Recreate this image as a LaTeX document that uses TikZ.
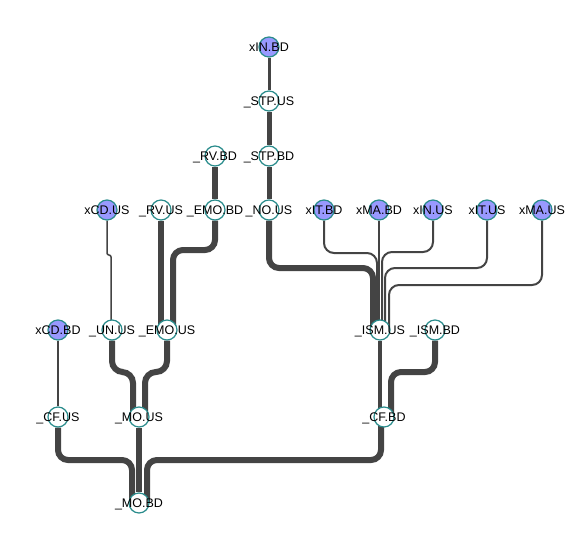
\documentclass[tikz,border=0pt]{standalone}
\usepackage{fontspec}
\setmainfont{Liberation Sans}
\usetikzlibrary{backgrounds}
\definecolor{linkgray}{HTML}{444444}
\definecolor{nodeteal}{HTML}{2A8C8C}
\definecolor{leafblue}{HTML}{9999FF}

\begin{document}
\begin{tikzpicture}[x=1pt,y=-1pt,
    every label/.style={font=\fontsize{12.5}{14}\selectfont,inner sep=0pt,text height=9pt,text depth=0pt}]
    \tikzset{tree/.style={circle,draw=nodeteal,fill=white,line width=1.2pt,minimum size=20pt,inner sep=0pt},
             leaf/.style={tree,fill=leafblue},
             link/.style={draw=linkgray,line width=#1,rounded corners=10pt},
             elbow/.style={to path={(\tikztostart) -- (\tikztostart |- 0,#1) -| (\tikztotarget)}}}
    \useasboundingbox (0,0) rectangle (584,536);

    \node[leaf,label=center:xIN.BD] (xINBD) at (269,47) {};
    \node[tree,label=center:\_STP.US] (STPUS) at (269,101) {};
    \node[tree,label=center:\_RV.BD] (RVBD) at (215,156) {};
    \node[tree,label=center:\_STP.BD] (STPBD) at (269,156) {};

    \node[leaf,label=center:xCD.US] (xCDUS) at (107,210) {};
    \node[tree,label=center:\_RV.US] (RVUS) at (161,210) {};
    \node[tree,label=center:\_EMO.BD] (EMOBD) at (215,210) {};
    \node[tree,label=center:\_NO.US] (NOUS) at (269,210) {};
    \node[leaf,label=center:xIT.BD] (xITBD) at (324,210) {};
    \node[leaf,label=center:xMA.BD] (xMABD) at (379,210) {};
    \node[leaf,label=center:xIN.US] (xINUS) at (433,210) {};
    \node[leaf,label=center:xIT.US] (xITUS) at (487,210) {};
    \node[leaf,label=center:xMA.US] (xMAUS) at (542,210) {};

    \node[leaf,label=center:xCD.BD] (xCDBD) at (58,330) {};
    \node[tree,label=center:\_UN.US] (UNUS) at (112,330) {};
    \node[tree,label=center:\_EMO.US] (EMOUS) at (167,330) {};
    \node[tree,label=center:\_ISM.US] (ISMUS) at (380,330) {};
    \node[tree,label=center:\_ISM.BD] (ISMBD) at (435,330) {};

    \node[tree,label=center:\_CF.US] (CFUS) at (58,417) {};
    \node[tree,label=center:\_MO.US] (MOUS) at (139,417) {};
    \node[tree,label=center:\_CF.BD] (CFBD) at (384,417) {};
    \node[tree,label=center:\_MO.BD] (MOBD) at (139,503) {};

    \begin{scope}[on background layer]
    \path
    (xINBD) edge [link=3pt] (STPUS)
    (STPUS) edge [link=5pt] (STPBD)
    (STPBD) edge [link=5pt] (NOUS)
    (RVBD) edge [link=6pt] (EMOBD)
    (RVUS) edge [link=6pt] ([xshift=0pt]EMOUS.center -| RVUS)
    (EMOBD) edge [link=6pt, elbow=250] ([xshift=6pt]EMOUS.center)
    (xCDUS) edge [link=1.5pt, rounded corners=2pt, elbow=255] ([xshift=-1pt]UNUS.center)
    (NOUS) edge [link=6pt, elbow=268] ([xshift=-7pt]ISMUS.center)
    (xITBD) edge [link=2pt, elbow=253] ([xshift=-3pt]ISMUS.center)
    (xMABD) edge [link=2pt] ([xshift=-1pt]ISMUS.center)
    (xINUS) edge [link=2pt, elbow=252] ([xshift=2pt]ISMUS.center)
    (xITUS) edge [link=2pt, elbow=268] ([xshift=5pt]ISMUS.center)
    (xMAUS) edge [link=2pt, elbow=285] ([xshift=9pt]ISMUS.center)
    (xCDBD) edge [link=2.5pt] (CFUS)
    (UNUS) edge [link=6pt, rounded corners=11pt, elbow=372] ([xshift=-6pt]MOUS.center)
    (EMOUS) edge [link=6pt, rounded corners=11pt, elbow=372] ([xshift=6pt]MOUS.center)
    (ISMUS) edge [link=4pt] ([xshift=-4pt]CFBD.center)
    (ISMBD) edge [link=6pt, elbow=372] ([xshift=7pt]CFBD.center)
    (CFUS) edge [link=6pt, elbow=460] ([xshift=-7pt]MOBD.center)
    (MOUS) edge [link=6pt] (MOBD)
    ([xshift=-3pt]CFBD.center) edge [link=6pt, elbow=460] ([xshift=8pt]MOBD.center)
    ;
    \end{scope}
\end{tikzpicture}
\end{document}
